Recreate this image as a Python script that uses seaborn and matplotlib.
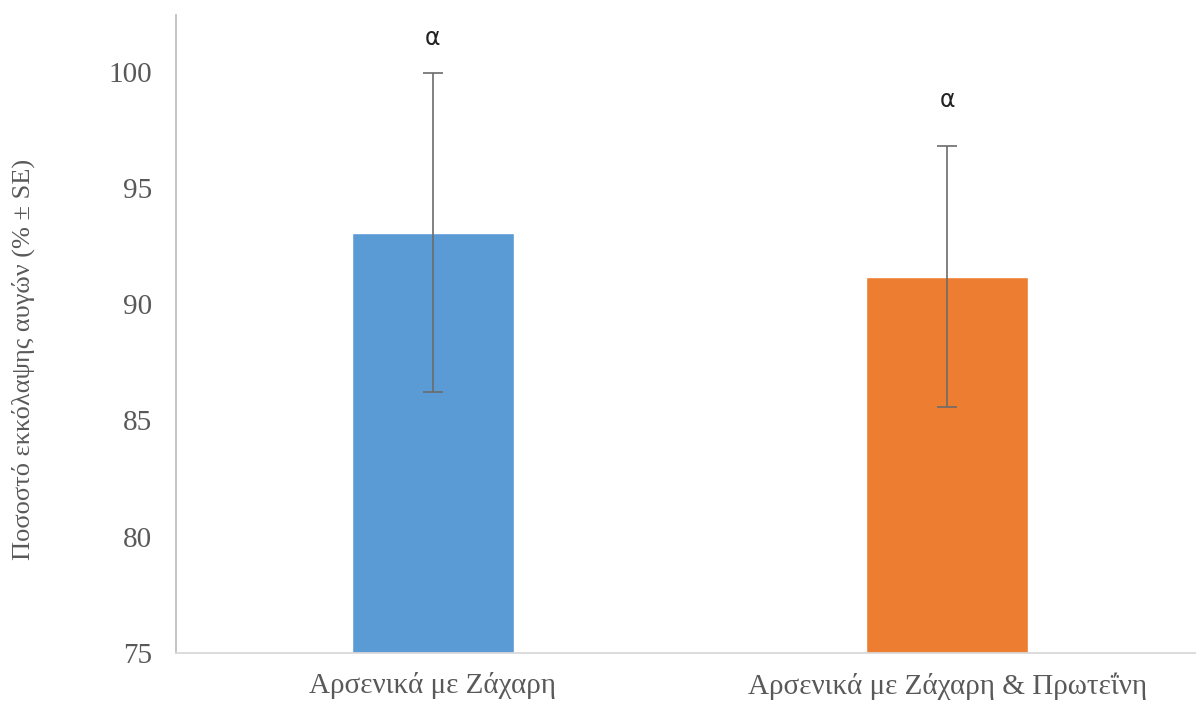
import numpy as np
import pandas as pd
import seaborn as sns
import matplotlib.pyplot as plt

# data
groups = ['Αρσενικά με Ζάχαρη', 'Αρσενικά με Ζάχαρη & Πρωτεΐνη']
hatch_pct = [93.08, 91.19]
se = [6.85, 5.63]
letters = ['α', 'α']
letter_y = [101.45, 98.8]
colors = ['#5B9BD5', '#ED7D31']

df = pd.DataFrame({'group': groups, 'pct': hatch_pct})

sns.set_style('white')
plt.rcParams['font.family'] = ['Liberation Serif', 'DejaVu Serif']

fig = plt.figure(figsize=(11.96, 7.05), dpi=100)
ax = fig.add_axes([0.147, 0.074, 0.86, 0.905])

sns.barplot(data=df, x='group', y='pct', hue='group', palette=colors,
            width=0.316, legend=False, ax=ax, saturation=1)
ax.errorbar(np.arange(len(groups)), hatch_pct, yerr=se, fmt='none',
            ecolor='#6b6b6b', elinewidth=1.2, capsize=7, capthick=1.2)

for i, (yy, t) in enumerate(zip(letter_y, letters)):
    ax.text(i, yy, t, ha='center', va='center', fontsize=17,
            family=['DejaVu Sans'], color='#222222')

ax.set_xlim(-0.5, 1.5)
ax.set_ylim(75, 102.45)
ax.set_yticks([75, 80, 85, 90, 95, 100])
ax.set_xlabel('')
ax.set_ylabel('Ποσοστό εκκόλαψης αυγών (% ± SE)', fontsize=19,
              color='#595959')
ax.yaxis.set_label_coords(-0.137, 0.46)
ax.tick_params(axis='both', length=0, labelsize=21, colors='#595959')
ax.tick_params(axis='y', pad=17)
ax.tick_params(axis='x', pad=14)

for s in ['top', 'right']:
    ax.spines[s].set_visible(False)
ax.spines['left'].set_color('#BFBFBF')
ax.spines['bottom'].set_color('#D9D9D9')
ax.spines['left'].set_linewidth(1.3)
ax.spines['bottom'].set_linewidth(1.3)

fig.savefig('out.png', dpi=100)
